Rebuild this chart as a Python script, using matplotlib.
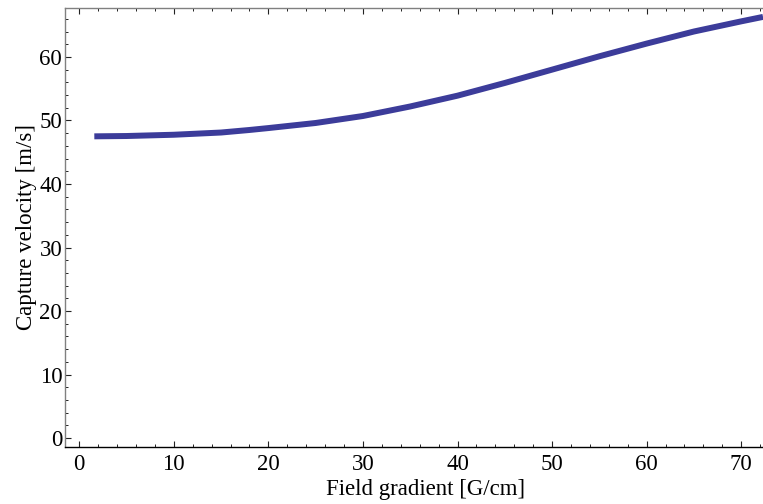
import numpy as np
import matplotlib
matplotlib.use("Agg")
import matplotlib.pyplot as plt
import matplotlib.ticker as mticker

# capture velocity vs field gradient
gradient = [1.6, 5, 10, 15, 18, 20, 25, 30, 35, 40, 45, 50, 55, 60, 65, 70, 72.3]
velocity = [47.5, 47.55, 47.75, 48.1, 48.5, 48.8, 49.6, 50.7, 52.2, 53.9,
            55.9, 58.0, 60.1, 62.1, 64.0, 65.6, 66.3]

X_LABEL = "Field gradient [G/cm]"
Y_LABEL = "Capture velocity [m/s]"

plt.rcParams["font.family"] = ["Liberation Serif", "DejaVu Serif"]

fig = plt.figure(figsize=(7.63, 5.04), dpi=100)
ax = fig.add_axes([65 / 763, 57 / 504, 698 / 763, 439 / 504])

ax.plot(gradient, velocity, color="#3c3c9a", linewidth=4.3,
        solid_capstyle="butt")

ax.set_xlim(-1.5, 72.3)
ax.set_ylim(-1.4, 67.7)

ax.xaxis.set_major_locator(mticker.MultipleLocator(10))
ax.xaxis.set_minor_locator(mticker.MultipleLocator(2))
ax.yaxis.set_major_locator(mticker.MultipleLocator(10))
ax.yaxis.set_minor_locator(mticker.MultipleLocator(2))

ax.tick_params(which="both", direction="in", top=True, right=False,
               labelsize=16.5, color="#222222")
ax.tick_params(which="major", length=4.5, width=0.8)
ax.tick_params(which="minor", length=2.5, width=0.7)
ax.tick_params(axis="x", pad=5)
ax.tick_params(axis="y", pad=2)

ax.spines["bottom"].set_color("black")
ax.spines["bottom"].set_linewidth(1.0)
for s in ["left", "top"]:
    ax.spines[s].set_color("#808080")
    ax.spines[s].set_linewidth(1.0)
ax.spines["right"].set_visible(False)

ax.set_xlabel(X_LABEL, fontsize=16.5, labelpad=3)
ax.xaxis.label.set_x(0.516)  # original frame runs past the right edge
ax.set_ylabel(Y_LABEL, fontsize=16.5, labelpad=2)

fig.savefig("out.png", dpi=100)
